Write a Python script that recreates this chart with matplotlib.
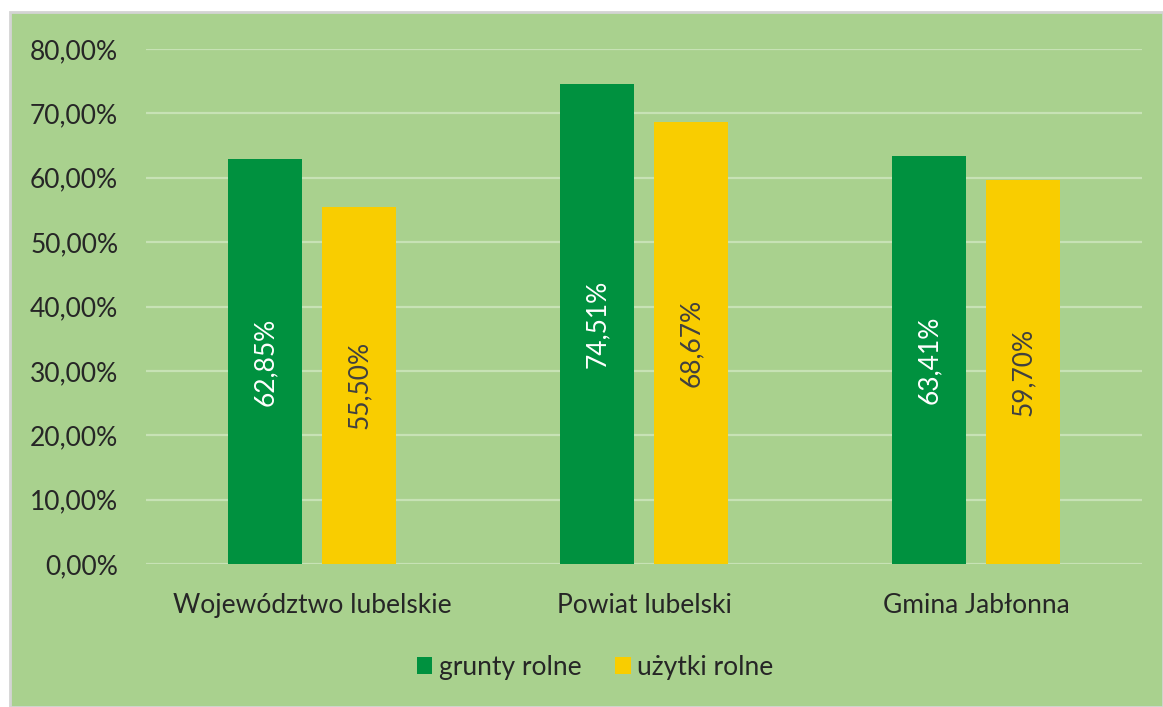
import matplotlib
matplotlib.use("Agg")
import matplotlib.pyplot as plt
from matplotlib.patches import Rectangle
from matplotlib.ticker import FuncFormatter
import numpy as np

categories = ["Województwo lubelskie", "Powiat lubelski", "Gmina Jabłonna"]
series_names = ["grunty rolne", "użytki rolne"]
grunty = [62.85, 74.51, 63.41]
uzytki = [55.50, 68.67, 59.70]

plt.rcParams['font.family'] = ['Lato', 'DejaVu Sans']

W, H = 1163, 707
fig = plt.figure(figsize=(W / 100, H / 100), dpi=100, facecolor='white')

bg = Rectangle((10 / W, 0), 1 - 10 / W, 1 - 12 / H, transform=fig.transFigure,
               facecolor='#A9D18E', edgecolor='#D4D4D4', linewidth=2.0, zorder=-10)
fig.add_artist(bg)

ax = fig.add_axes([146 / W, 1 - 564 / H, (1142 - 146) / W, (564 - 49) / H])
ax.set_facecolor('none')
ax.set_zorder(1)

FS = 19

x = np.arange(len(categories))
bw = 0.223
off = 0.1416
green = '#00913F'
yellow = '#F9CD00'
b1 = ax.bar(x - off, grunty, bw, color=green, label=series_names[0], zorder=3)
b2 = ax.bar(x + off, uzytki, bw, color=yellow, label=series_names[1], zorder=3)

def fmt(v):
    return f"{v:.2f}%".replace('.', ',')

for rect, v in zip(b1, grunty):
    ax.text(rect.get_x() + rect.get_width() / 2, v / 2, fmt(v), rotation=90,
            ha='center', va='center', color='white', fontsize=FS, zorder=4)
for rect, v in zip(b2, uzytki):
    ax.text(rect.get_x() + rect.get_width() / 2, v / 2, fmt(v), rotation=90,
            ha='center', va='center', color='#404040', fontsize=FS, zorder=4)

ax.set_xlim(-0.5, 2.5)
ax.set_ylim(0, 80)
ax.set_yticks(np.arange(0, 81, 10))
ax.yaxis.set_major_formatter(FuncFormatter(lambda v, p: f"{v:.2f}%".replace('.', ',')))
ax.set_xticks(x)
ax.set_xticklabels(categories)
ax.tick_params(axis='both', length=0, labelsize=FS, colors='#262626')
ax.tick_params(axis='y', pad=20)
ax.tick_params(axis='x', pad=21)
ax.grid(axis='y', color='#C7E2B5', linewidth=1.6, zorder=1)
for s in ax.spines.values():
    s.set_visible(False)

leg = ax.legend(loc='center', bbox_to_anchor=(595 / W, 1 - 667 / H),
                bbox_transform=fig.transFigure, ncol=2, frameon=False,
                fontsize=FS, handlelength=0.6, handleheight=0.6,
                handletextpad=0.25, columnspacing=1.25, labelcolor='#262626')

fig.savefig("out.png", dpi=100, facecolor='white')
